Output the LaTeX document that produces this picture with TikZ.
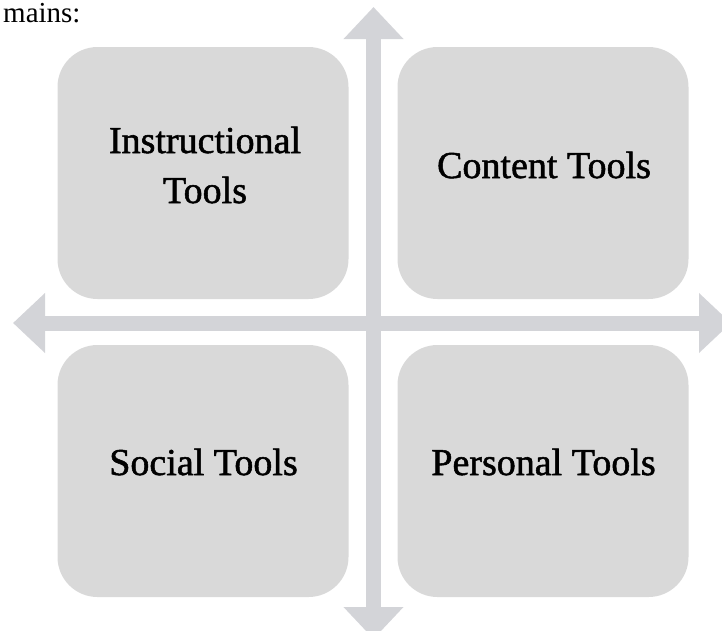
\documentclass[tikz,border=0pt]{standalone}
\usepackage{fontspec}
\setmainfont{Liberation Serif}
\newfontfamily\boxfont[FakeBold=1.4]{Liberation Serif}
\usetikzlibrary{arrows.meta}
\definecolor{boxgray}{HTML}{D9D9D9}
\definecolor{axisgray}{HTML}{D3D4D8}
\tikzset{
  quad/.style={draw=none, fill=boxgray, rounded corners=40pt, minimum width=291pt, minimum height=252pt, inner sep=0pt},
  quadtext/.style={font=\boxfont\fontsize{38}{50}\selectfont, inner sep=0pt, align=center, text=black},
  axis/.style={draw=axisgray, line width=15pt, {Triangle[width=58pt,length=32pt]}-{Triangle[width=58pt,length=32pt]}}
}
\begin{document}
\begin{tikzpicture}[x=1pt,y=-1pt]
\useasboundingbox (0,0) rectangle (722,630);
\clip (0,0) rectangle (722,630);
% heading fragment
\node[font=\fontsize{29}{32}\selectfont, anchor=base west, inner sep=0pt] (head) at (3,22) {mains:};
% quadrant boxes
\node[quad] (tl) at (203,173) {};
\node[quad] (tr) at (543,173) {};
\node[quad] (bl) at (203,471) {};
\node[quad] (br) at (543,471) {};
% axes
\coordinate (top) at (373.5,7);
\coordinate (bottom) at (373.5,639);
\coordinate (left) at (13,323);
\coordinate (right) at (731,323);
\draw[axis] (top) -- (bottom);
\draw[axis] (left) -- (right);
% texts
\node[quadtext, anchor=base] (tltxt) at (205,153) {Instructional};
\node[quadtext, anchor=base] (tltxt2) at (205,203) {Tools};
\node[quadtext, anchor=base] (trtxt) at (544,178) {Content Tools};
\node[quadtext, anchor=base] (bltxt) at (203.5,475) {Social Tools};
\node[quadtext, anchor=base] (brtxt) at (543.5,475) {Personal Tools};
\end{tikzpicture}
\end{document}
